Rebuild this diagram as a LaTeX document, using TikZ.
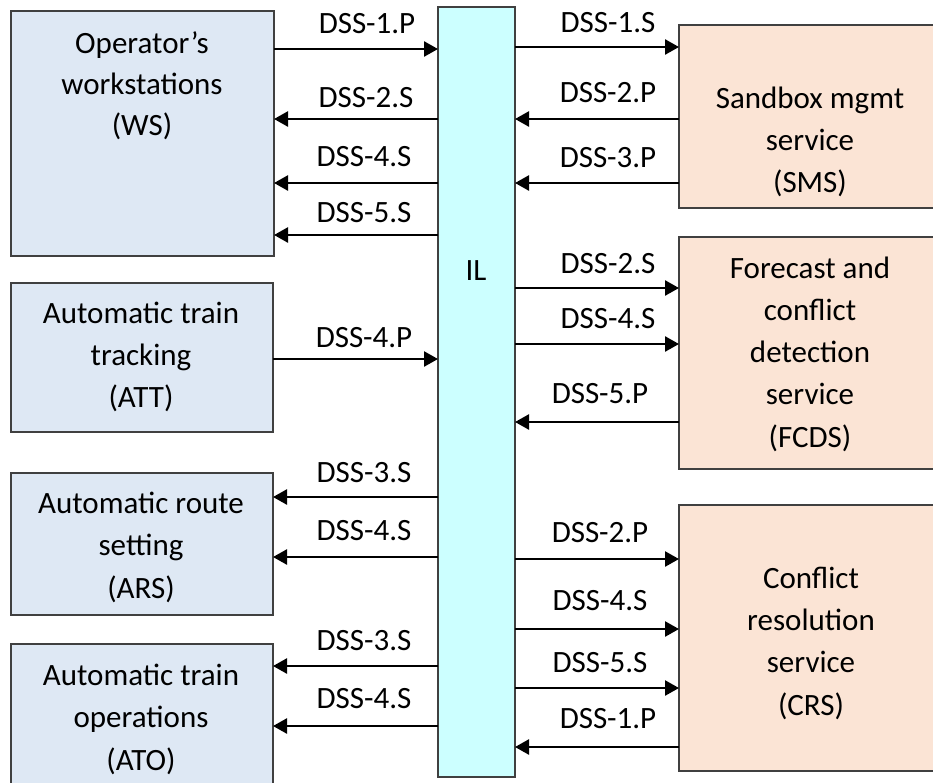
\documentclass[tikz,border=0pt]{standalone}
\usepackage{fontspec}
\setmainfont{Carlito}
\usetikzlibrary{arrows.meta}
\definecolor{leftfill}{HTML}{DEE8F4}
\definecolor{ilfill}{HTML}{CCFFFF}
\definecolor{rightfill}{HTML}{FBE4D5}
\definecolor{edge}{HTML}{404040}
\tikzset{
  boxshape/.style={draw=edge, line width=1.3pt, anchor=north west, inner sep=0pt, outer sep=0pt},
  lbox/.style={boxshape, fill=leftfill},
  rbox/.style={boxshape, fill=rightfill},
  ilbox/.style={boxshape, fill=ilfill},
  txt/.style={anchor=base, inner sep=0pt, font=\fontsize{31}{42}\selectfont},
  arr/.style={line width=2.5pt, -{Triangle[length=14pt,width=15pt]}}
}
\begin{document}
\begin{tikzpicture}[x=1pt,y=-1pt]
\useasboundingbox (0,0) rectangle (933,782);
% boxes
\node[lbox, minimum width=263pt, minimum height=245pt] (ws) at (11,11) {};
\node[lbox, minimum width=262pt, minimum height=149pt] (att) at (11,283) {};
\node[lbox, minimum width=262pt, minimum height=142pt] (ars) at (11,473) {};
\node[lbox, minimum width=262pt, minimum height=150pt] (ato) at (11,644) {};
\node[ilbox, minimum width=77pt, minimum height=770pt] (il) at (438,7) {};
\node[rbox, minimum width=262pt, minimum height=183pt] (sms) at (679,25) {};
\node[rbox, minimum width=262pt, minimum height=232pt] (fcds) at (679,237) {};
\node[rbox, minimum width=262pt, minimum height=266pt] (crs) at (679,505) {};
% box texts
\node[txt] (ws1) at (142,53) {Operator’s};
\node[txt] (ws2) at (142,94) {workstations};
\node[txt] (ws3) at (142,135) {(WS)};
\node[txt] (att1) at (141,323) {Automatic train};
\node[txt] (att2) at (141,365) {tracking};
\node[txt] (att3) at (141,407) {(ATT)};
\node[txt] (ars1) at (141,513) {Automatic route};
\node[txt] (ars2) at (141,555) {setting};
\node[txt] (ars3) at (141,598) {(ARS)};
\node[txt] (ato1) at (141,685) {Automatic train};
\node[txt] (ato2) at (141,727) {operations};
\node[txt] (ato3) at (141,770) {(ATO)};
\node[txt] (il1) at (476,280) {IL};
\node[txt] (sms1) at (810,108) {Sandbox mgmt};
\node[txt] (sms2) at (810,150) {service};
\node[txt] (sms3) at (810,192) {(SMS)};
\node[txt] (fc1) at (810,278) {Forecast and};
\node[txt] (fc2) at (810,320) {conflict};
\node[txt] (fc3) at (810,362) {detection};
\node[txt] (fc4) at (810,404) {service};
\node[txt] (fc5) at (810,447) {(FCDS)};
\node[txt] (cr1) at (811,588) {Conflict};
\node[txt] (cr2) at (811,630) {resolution};
\node[txt] (cr3) at (811,672) {service};
\node[txt] (cr4) at (811,715) {(CRS)};
% left connectors
\draw[arr] (ws.east |- 0,49) -- (il.west |- 0,49);
\node[txt] (l1) at (367,33) {DSS-1.P};
\draw[arr] (il.west |- 0,119) -- (ws.east |- 0,119);
\node[txt] (l2) at (366,107) {DSS-2.S};
\draw[arr] (il.west |- 0,183) -- (ws.east |- 0,183);
\node[txt] (l3) at (364,166) {DSS-4.S};
\draw[arr] (il.west |- 0,235) -- (ws.east |- 0,235);
\node[txt] (l4) at (364,222) {DSS-5.S};
\draw[arr] (att.east |- 0,359) -- (il.west |- 0,359);
\node[txt] (l5) at (364,347) {DSS-4.P};
\draw[arr] (il.west |- 0,497) -- (ars.east |- 0,497);
\node[txt] (l6) at (364,482) {DSS-3.S};
\draw[arr] (il.west |- 0,557) -- (ars.east |- 0,557);
\node[txt] (l7) at (364,540) {DSS-4.S};
\draw[arr] (il.west |- 0,666) -- (ato.east |- 0,666);
\node[txt] (l8) at (364,650) {DSS-3.S};
\draw[arr] (il.west |- 0,726) -- (ato.east |- 0,726);
\node[txt] (l9) at (364,708) {DSS-4.S};
% right connectors
\draw[arr] (il.east |- 0,47) -- (sms.west |- 0,47);
\node[txt] (r1) at (608,32) {DSS-1.S};
\draw[arr] (sms.west |- 0,119) -- (il.east |- 0,119);
\node[txt] (r2) at (608,102) {DSS-2.P};
\draw[arr] (sms.west |- 0,183) -- (il.east |- 0,183);
\node[txt] (r3) at (608,167) {DSS-3.P};
\draw[arr] (il.east |- 0,288) -- (fcds.west |- 0,288);
\node[txt] (r4) at (608,273) {DSS-2.S};
\draw[arr] (il.east |- 0,344) -- (fcds.west |- 0,344);
\node[txt] (r5) at (608,328) {DSS-4.S};
\draw[arr] (fcds.west |- 0,422) -- (il.east |- 0,422);
\node[txt] (r6) at (600,403) {DSS-5.P};
\draw[arr] (il.east |- 0,559) -- (crs.west |- 0,559);
\node[txt] (r7) at (600,542) {DSS-2.P};
\draw[arr] (il.east |- 0,629) -- (crs.west |- 0,629);
\node[txt] (r8) at (600,610) {DSS-4.S};
\draw[arr] (il.east |- 0,688) -- (crs.west |- 0,688);
\node[txt] (r9) at (600,672) {DSS-5.S};
\draw[arr] (crs.west |- 0,747) -- (il.east |- 0,747);
\node[txt] (r10) at (608,728) {DSS-1.P};
\end{tikzpicture}
\end{document}
